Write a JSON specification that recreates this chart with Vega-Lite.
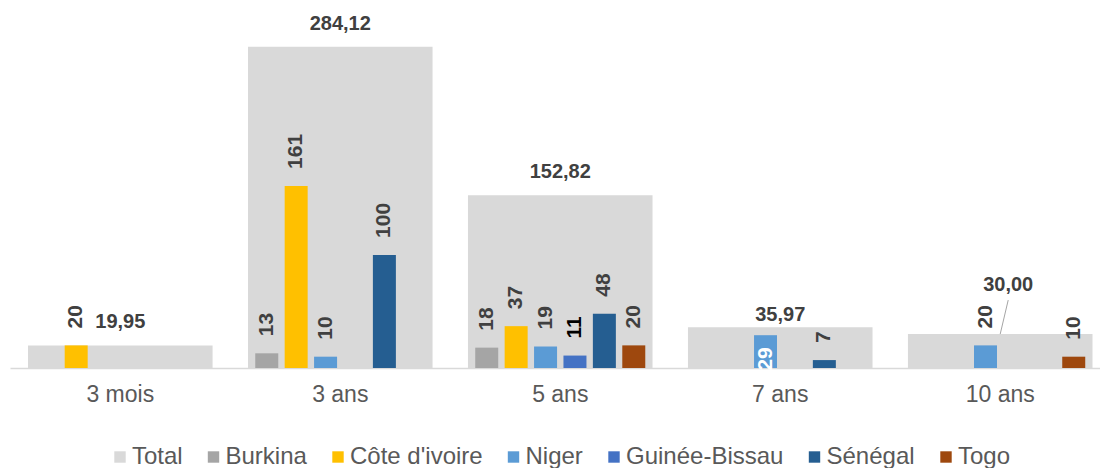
{
  "$schema": "https://vega.github.io/schema/vega-lite/v6.json",
  "width": 1090,
  "height": 368,
  "autosize": {"type": "none"},
  "padding": {"left": 10, "right": 0, "top": 0, "bottom": 100},
  "config": {
    "view": {"stroke": null},
    "font": "Liberation Sans",
    "locale": {"number": {"decimal": ",", "thousands": " ", "grouping": [3], "currency": ["", " €"]}}
  },
  "data": {
    "values": [
      {"tenor": "3 mois", "series": "Total", "value": 19.95},
      {"tenor": "3 mois", "series": "Côte d'ivoire", "value": 20},
      {"tenor": "3 ans", "series": "Total", "value": 284.12},
      {"tenor": "3 ans", "series": "Burkina", "value": 13},
      {"tenor": "3 ans", "series": "Côte d'ivoire", "value": 161},
      {"tenor": "3 ans", "series": "Niger", "value": 10},
      {"tenor": "3 ans", "series": "Sénégal", "value": 100},
      {"tenor": "5 ans", "series": "Total", "value": 152.82},
      {"tenor": "5 ans", "series": "Burkina", "value": 18},
      {"tenor": "5 ans", "series": "Côte d'ivoire", "value": 37},
      {"tenor": "5 ans", "series": "Niger", "value": 19},
      {"tenor": "5 ans", "series": "Guinée-Bissau", "value": 11},
      {"tenor": "5 ans", "series": "Sénégal", "value": 48},
      {"tenor": "5 ans", "series": "Togo", "value": 20},
      {"tenor": "7 ans", "series": "Total", "value": 35.97},
      {"tenor": "7 ans", "series": "Niger", "value": 29},
      {"tenor": "7 ans", "series": "Sénégal", "value": 7},
      {"tenor": "10 ans", "series": "Total", "value": 30.00},
      {"tenor": "10 ans", "series": "Niger", "value": 20},
      {"tenor": "10 ans", "series": "Togo", "value": 10}
    ]
  },
  "encoding": {
    "x": {
      "field": "tenor",
      "type": "nominal",
      "title": null,
      "scale": {
        "domain": ["3 mois", "3 ans", "5 ans", "7 ans", "10 ans"],
        "paddingInner": 0.161,
        "paddingOuter": 0.058,
        "align": 0.706
      },
      "axis": {
        "labelAngle": 0,
        "labelFontSize": 23,
        "labelColor": "#595959",
        "labelPadding": 15,
        "ticks": false,
        "domainColor": "#D9D9D9",
        "domainWidth": 1.5,
        "grid": false
      }
    },
    "y": {
      "field": "value",
      "type": "quantitative",
      "title": null,
      "scale": {"domain": [0, 325.4], "nice": false, "zero": true},
      "axis": null
    }
  },
  "layer": [
    {
      "transform": [{"filter": "datum.series === 'Total'"}],
      "mark": {"type": "bar"},
      "encoding": {
        "color": {
          "field": "series",
          "type": "nominal",
          "title": null,
          "scale": {
            "domain": ["Total", "Burkina", "Côte d'ivoire", "Niger", "Guinée-Bissau", "Sénégal", "Togo"],
            "range": ["#D9D9D9", "#A5A5A5", "#FFC000", "#5B9BD5", "#4472C4", "#255E91", "#9E480E"]
          },
          "legend": {
            "orient": "none",
            "legendX": 98,
            "legendY": 445,
            "direction": "horizontal",
            "symbolType": "square",
            "symbolSize": 130,
            "symbolStrokeWidth": 0,
            "labelFontSize": 24,
            "labelColor": "#595959",
            "labelOffset": 0,
            "columnPadding": 18.5
          }
        }
      }
    },
    {
      "transform": [{"filter": "datum.series !== 'Total'"}],
      "mark": {"type": "bar"},
      "encoding": {
        "xOffset": {
          "field": "series",
          "type": "nominal",
          "scale": {
            "domain": ["Burkina", "Côte d'ivoire", "Niger", "Guinée-Bissau", "Sénégal", "Togo"],
            "paddingInner": 0.218,
            "paddingOuter": 0.247
          }
        },
        "color": {"field": "series", "type": "nominal"}
      }
    },
    {
      "transform": [{"filter": "datum.series !== 'Total' && !(datum.tenor === '7 ans' && datum.series === 'Niger')"}],
      "mark": {"type": "text", "angle": 270, "align": "left", "baseline": "middle", "dx": 17, "fontSize": 21, "fontWeight": "bold"},
      "encoding": {
        "xOffset": {"field": "series", "type": "nominal"},
        "text": {"field": "value", "type": "quantitative", "format": "d"},
        "color": {"condition": {"test": "datum.series === 'Guinée-Bissau'", "value": "#000000"}, "value": "#404040"}
      }
    },
    {
      "transform": [{"filter": "datum.tenor === '7 ans' && datum.series === 'Niger'"}],
      "mark": {"type": "text", "angle": 270, "align": "right", "baseline": "middle", "dx": -12, "fontSize": 21, "fontWeight": "bold", "color": "#FFFFFF"},
      "encoding": {
        "xOffset": {"field": "series", "type": "nominal"},
        "text": {"field": "value", "type": "quantitative", "format": "d"}
      }
    },
    {
      "transform": [{"filter": "datum.series === 'Total' && datum.tenor !== '7 ans' && datum.tenor !== '10 ans'"}],
      "mark": {"type": "text", "baseline": "middle", "dy": -23, "fontSize": 20, "fontWeight": "bold", "color": "#404040"},
      "encoding": {
        "text": {"field": "value", "type": "quantitative", "format": ".2f"}
      }
    },
    {
      "transform": [{"filter": "datum.series === 'Total' && datum.tenor === '7 ans'"}],
      "mark": {"type": "text", "baseline": "middle", "dy": -12.5, "fontSize": 20, "fontWeight": "bold", "color": "#404040"},
      "encoding": {
        "text": {"field": "value", "type": "quantitative", "format": ".2f"}
      }
    },
    {
      "transform": [{"filter": "datum.series === 'Total' && datum.tenor === '10 ans'"}],
      "mark": {"type": "text", "baseline": "middle", "dx": 8, "dy": -49.5, "fontSize": 20, "fontWeight": "bold", "color": "#404040"},
      "encoding": {
        "text": {"field": "value", "type": "quantitative", "format": ".2f"}
      }
    },
    {
      "transform": [{"filter": "datum.series === 'Total' && datum.tenor === '10 ans'"}],
      "mark": {"type": "rule", "color": "#A5A5A5", "strokeWidth": 1, "x2Offset": 8, "y2Offset": -34},
      "encoding": {
        "x2": {"field": "tenor"},
        "y2": {"field": "value"}
      }
    }
  ]
}
